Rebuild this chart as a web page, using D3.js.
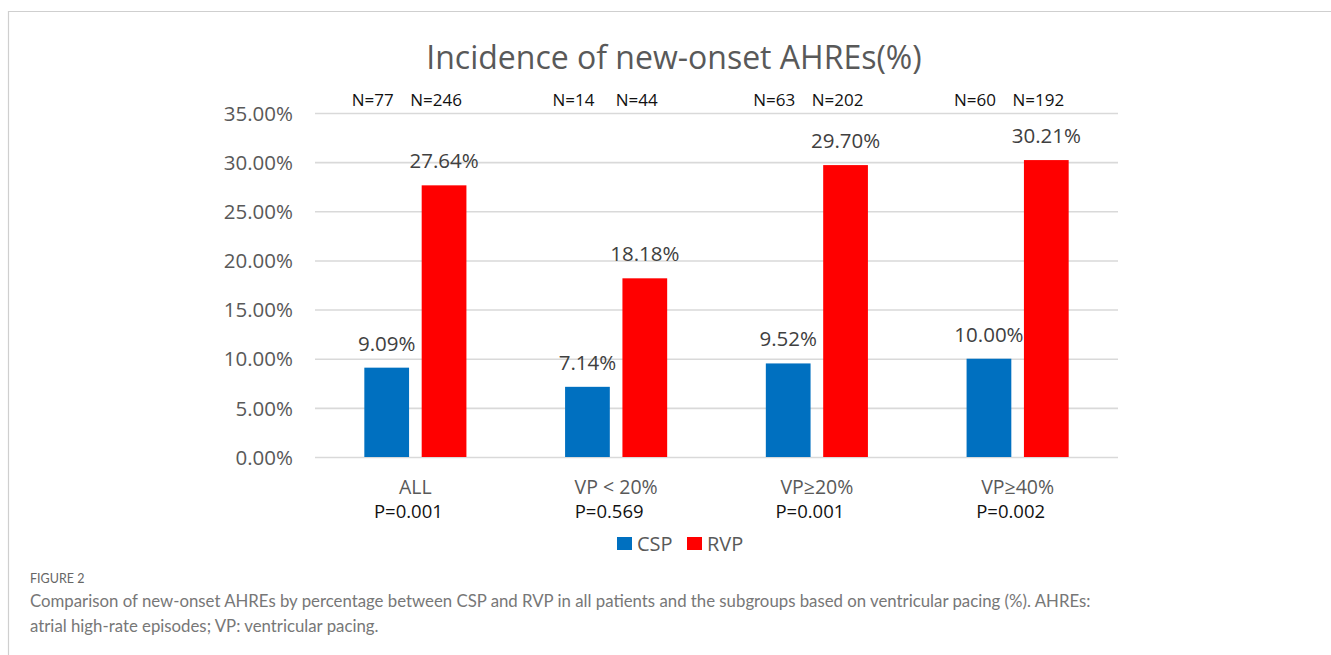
<!DOCTYPE html>
<html>
<head>
<meta charset="utf-8">
<script src="https://cdn.jsdelivr.net/npm/d3@7"></script>
<style>
  body { margin: 0; background: #fff; }
  text { font-family: "Open Sans", sans-serif; }
</style>
</head>
<body>
<div id="chart"></div>
<script>
let width = 1331
let height = 655

// data
const categories = ['ALL', 'VP < 20%', 'VP\u226520%', 'VP\u226540%']
const series = ['CSP', 'RVP']
const csp = [9.09, 7.14, 9.52, 10.00]
const rvp = [27.64, 18.18, 29.70, 30.21]
const cspN = ['N=77', 'N=14', 'N=63', 'N=60']
const rvpN = ['N=246', 'N=44', 'N=202', 'N=192']
const pValues = ['P=0.001', 'P=0.569', 'P=0.001', 'P=0.002']
const yTicks = [0, 5, 10, 15, 20, 25, 30, 35]
const colors = { CSP: '#0070C0', RVP: '#FF0000' }

let rows = categories.map((c, i) => ({ cat: c, CSP: csp[i], RVP: rvp[i], nc: cspN[i], nr: rvpN[i], p: pValues[i] }))

let svg = d3.select('#chart')
            .append('svg')
            .attr('width', width)
            .attr('height', height)

// frame lines of the figure panel
svg.append('line').attr('x1', 8).attr('x2', width).attr('y1', 11.5).attr('y2', 11.5)
   .attr('stroke', '#cfcfcf').attr('stroke-width', 1.2)
svg.append('line').attr('x1', 8.5).attr('x2', 8.5).attr('y1', 11).attr('y2', height)
   .attr('stroke', '#cfcfcf').attr('stroke-width', 1.2)

let x0 = d3.scaleBand().domain(categories).range([315, 1118])
let x1 = d3.scaleBand().domain(series).range([0, x0.bandwidth()]).paddingInner(0.22).paddingOuter(0.86)
let y = d3.scaleLinear().domain([0, 35]).range([457, 113])

// gridlines
let yAxis = d3.axisLeft(y)
              .tickValues(yTicks)
              .tickSize(-(1118 - 315))
              .tickPadding(22)
              .tickFormat(d => d.toFixed(2) + '%')

let gy = svg.append('g')
            .attr('transform', 'translate(315,0)')
            .call(yAxis)
gy.select('.domain').remove()
gy.selectAll('.tick line').attr('stroke', '#d9d9d9').attr('stroke-width', 1.6)
gy.selectAll('.tick text')
  .attr('fill', '#595959')
  .style('font-size', '20.5px')
  .style('font-family', '"Open Sans", sans-serif')
  .attr('dy', '0.35em')

// title
svg.append('text')
   .attr('x', 674)
   .attr('y', 69)
   .attr('text-anchor', 'middle')
   .attr('fill', '#595959')
   .style('font-size', '32px')
   .text('Incidence of new-onset AHREs(%)')

let groups = svg.selectAll('.group')
                .data(rows)
                .enter()
                .append('g')
                .attr('class', 'group')
                .attr('transform', d => 'translate(' + x0(d.cat) + ',0)')

groups.selectAll('rect')
      .data(d => series.map(s => ({ key: s, value: d[s] })))
      .enter()
      .append('rect')
      .attr('x', d => x1(d.key))
      .attr('y', d => y(d.value))
      .attr('width', x1.bandwidth())
      .attr('height', d => y(0) - y(d.value))
      .attr('fill', d => colors[d.key])

groups.selectAll('.val')
      .data(d => series.map(s => ({ key: s, value: d[s] })))
      .enter()
      .append('text')
      .attr('class', 'val')
      .attr('x', d => x1(d.key) + x1.bandwidth() / 2)
      .attr('y', d => y(d.value) - 17)
      .attr('text-anchor', 'middle')
      .attr('fill', '#404040')
      .style('font-size', '20.5px')
      .text(d => d.value.toFixed(2) + '%')

// N labels above the plot
groups.append('text')
      .attr('x', x1('CSP') + x1.bandwidth() / 2 - 14)
      .attr('y', 106)
      .attr('text-anchor', 'middle')
      .attr('fill', '#111')
      .style('font-size', '17px')
      .text(d => d.nc)
groups.append('text')
      .attr('x', x1('RVP') + x1.bandwidth() / 2 - 8)
      .attr('y', 106)
      .attr('text-anchor', 'middle')
      .attr('fill', '#111')
      .style('font-size', '17px')
      .text(d => d.nr)

// category + p-value labels
groups.append('text')
      .attr('x', x0.bandwidth() / 2)
      .attr('y', 494)
      .attr('text-anchor', 'middle')
      .attr('fill', '#595959')
      .style('font-size', '19.5px')
      .text(d => d.cat)
groups.append('text')
      .attr('x', x0.bandwidth() / 2 - 7)
      .attr('y', 518)
      .attr('text-anchor', 'middle')
      .attr('fill', '#111')
      .style('font-size', '18.5px')
      .text(d => d.p)

// legend
let legend = svg.append('g').attr('transform', 'translate(617,537)')
series.forEach((s, i) => {
  let g = legend.append('g').attr('transform', 'translate(' + i * 70 + ',0)')
  g.append('rect').attr('width', 15).attr('height', 13).attr('fill', colors[s])
  g.append('text')
   .attr('x', 20)
   .attr('y', 13.5)
   .attr('fill', '#595959')
   .style('font-size', '20px')
   .text(s)
})

// caption
svg.append('text')
   .attr('x', 30)
   .attr('y', 583)
   .attr('fill', '#666')
   .style('font-family', 'Lato, sans-serif')
   .style('font-size', '12.5px')
   .text('FIGURE 2')
let cap = svg.append('text')
             .attr('fill', '#777')
             .style('font-family', 'Lato, sans-serif')
             .style('font-size', '16.8px')
cap.append('tspan').attr('x', 30).attr('y', 607)
   .text('Comparison of new-onset AHREs by percentage between CSP and RVP in all patients and the subgroups based on ventricular pacing (%). AHREs:')
cap.append('tspan').attr('x', 30).attr('y', 632)
   .text('atrial high-rate episodes; VP: ventricular pacing.')
</script>
</body>
</html>
